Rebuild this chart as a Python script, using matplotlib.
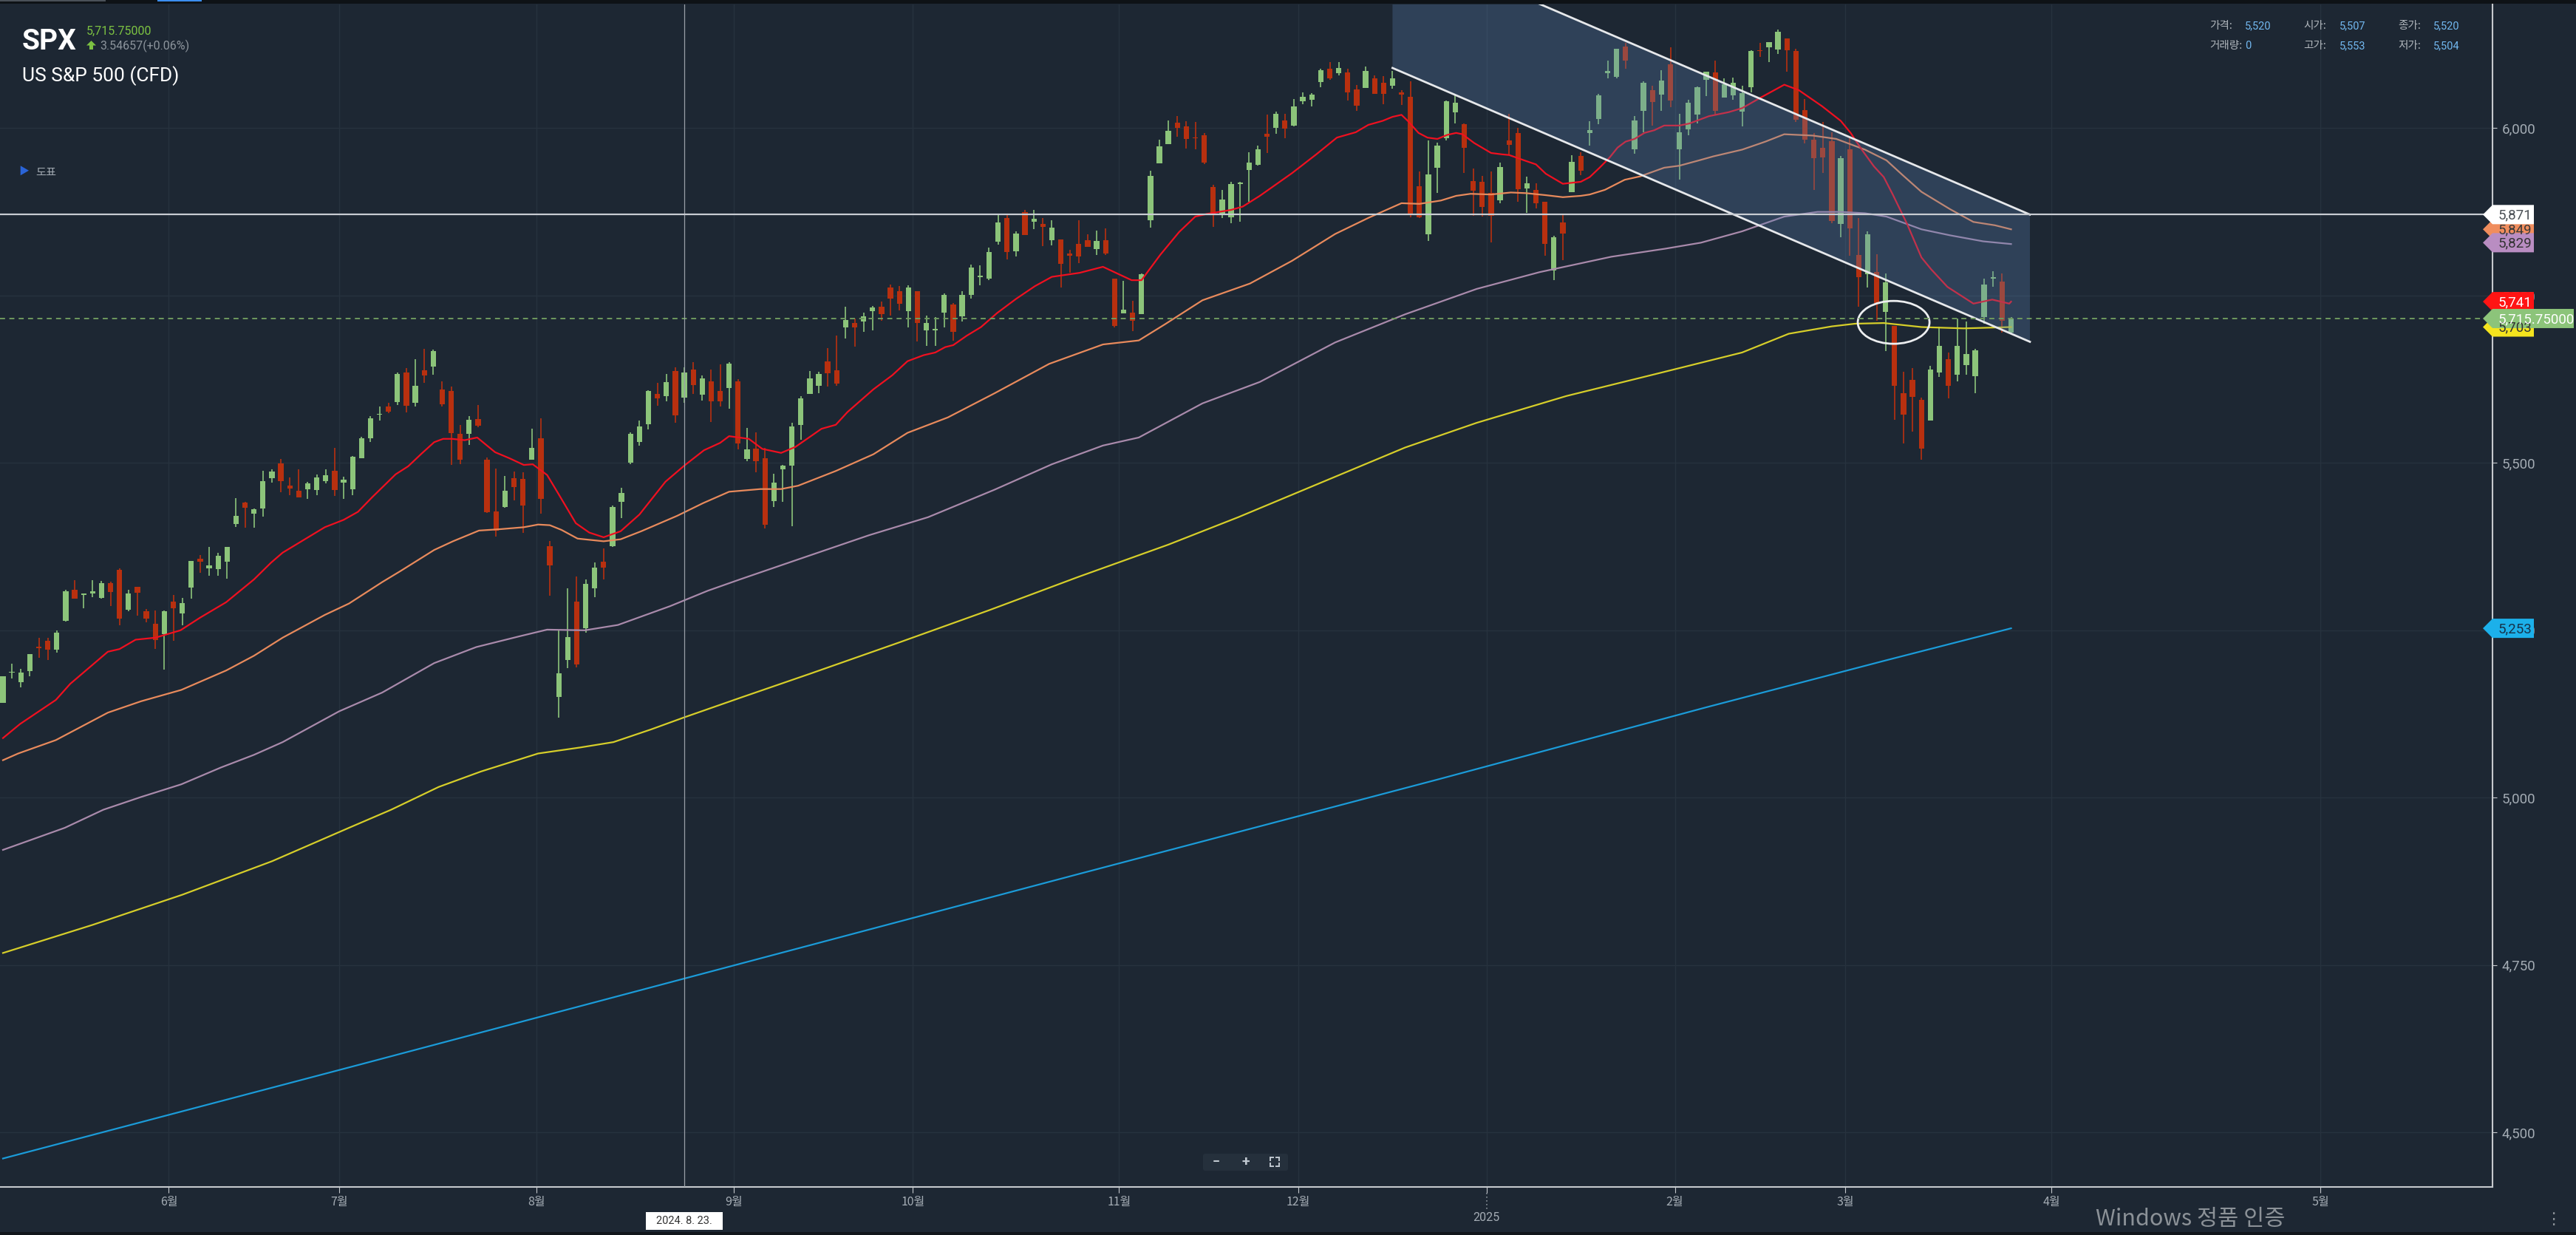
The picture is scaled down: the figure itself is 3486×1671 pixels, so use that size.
#!/usr/bin/env python3
"""SPX (US S&P 500 CFD) daily candles with moving averages, dark trading-app style."""
import matplotlib
matplotlib.use("Agg")
import matplotlib.pyplot as plt
from matplotlib.patches import Polygon, Ellipse, Rectangle, FancyBboxPatch
import numpy as np
import pandas as pd

W, H = 3487, 1671

# trading days on screen (NYSE calendar, the CFD also printed a candle on 2025-01-09)
first_day, last_day = "2024-05-06", "2025-03-27"
holidays = ["2024-05-27", "2024-06-19", "2024-07-04", "2024-09-02", "2024-11-28",
            "2024-12-25", "2025-01-01", "2025-01-20", "2025-02-17"]
future_months = ["2025-04-01", "2025-05-01"]

# daily OHLC, one value per trading day (May .. Mar)
opens = [
    5142, 5187, 5173, 5189, 5225, 5234, 5221, 5264, 5310, 5303, 5305, 5298, 5320, 5340, 5281, 5315, 5278, 5260, 5244,
    5293, 5275, 5314, 5357, 5343, 5341, 5353, 5409, 5441, 5424, 5432, 5477, 5499, 5466, 5459, 5461, 5460, 5473, 5488,
    5471, 5461, 5507, 5537, 5572, 5584, 5591, 5635, 5590, 5638, 5644, 5610, 5608, 5544, 5544, 5566, 5505, 5428, 5434, 5477, 5476, 5505,
    5537, 5376, 5151, 5206, 5293, 5253, 5313, 5352, 5376, 5442, 5500, 5531, 5558, 5603, 5600, 5637, 5598, 5640, 5602, 5622, 5607, 5612,
    5622, 5506, 5521, 5507, 5443, 5490, 5496, 5557, 5603, 5615, 5652, 5638, 5702, 5709, 5711, 5727, 5733, 5762, 5756, 5727,
    5757, 5698, 5698, 5725, 5737, 5719, 5751, 5778, 5775, 5830, 5866, 5816, 5875, 5860, 5857, 5833, 5834, 5813, 5827, 5833, 5819, 5833, 5775,
    5723, 5725, 5722, 5863, 5947, 5976, 6008, 6003, 5986, 5990, 5912, 5870, 5867, 5917, 5938, 5945, 5992, 6001, 6012, 6004,
    6040, 6042, 6069, 6089, 6082, 6083, 6058, 6060, 6074, 6068, 6063, 6053, 6047, 5913, 5842, 5941, 5985, 6024, 6006, 5921, 5920,
    5903, 5892, 5982, 5993, 5910, 5908, 5890, 5788, 5859, 5905, 5959, 5993, 6014, 6082, 6077, 6122, 5969, 6026, 6057, 6050, 6096,
    5969, 5998, 6020, 6072, 6083, 6046, 6049, 6025, 6061, 6116, 6121, 6118, 6134, 6115, 6027, 5983, 5971, 5981, 5857,
    5969, 5811, 5782, 5785, 5726, 5705, 5604, 5624, 5594, 5563, 5635, 5655, 5632, 5646, 5630, 5718, 5775, 5771, 5695,
]
highs = [
    5181, 5200, 5192, 5215, 5239, 5239, 5250, 5311, 5325, 5305, 5325, 5324, 5323, 5342, 5311, 5315, 5282, 5280, 5280,
    5303, 5298, 5354, 5362, 5375, 5366, 5375, 5447, 5442, 5432, 5488, 5490, 5506, 5478, 5490, 5472, 5483, 5490, 5523,
    5479, 5510, 5539, 5570, 5584, 5590, 5635, 5642, 5655, 5670, 5669, 5622, 5614, 5557, 5570, 5586, 5508, 5492, 5480, 5487, 5486, 5551,
    5567, 5383, 5250, 5313, 5330, 5326, 5351, 5372, 5436, 5463, 5546, 5563, 5609, 5620, 5633, 5643, 5643, 5651, 5631, 5640, 5647, 5651,
    5625, 5552, 5546, 5522, 5484, 5497, 5560, 5600, 5637, 5636, 5671, 5690, 5733, 5716, 5725, 5735, 5741, 5767, 5764, 5765,
    5757, 5720, 5718, 5753, 5739, 5757, 5796, 5795, 5822, 5871, 5870, 5846, 5878, 5878, 5866, 5863, 5834, 5818, 5863, 5842, 5847, 5850, 5775,
    5772, 5742, 5783, 5936, 5983, 6012, 6018, 6010, 6009, 5993, 5915, 5908, 5920, 5920, 5964, 5974, 6020, 6025, 6021, 6044,
    6053, 6052, 6089, 6099, 6099, 6089, 6065, 6092, 6079, 6078, 6085, 6057, 6070, 5935, 5982, 5978, 6041, 6049, 6007, 5940, 5929,
    5935, 5949, 6021, 6000, 5928, 5918, 5890, 5839, 5871, 5960, 5964, 6011, 6051, 6101, 6119, 6128, 6018, 6070, 6063, 6087, 6121,
    6022, 6042, 6062, 6084, 6101, 6074, 6076, 6063, 6116, 6127, 6129, 6147, 6134, 6119, 6044, 5993, 6009, 5994, 5959,
    5986, 5866, 5846, 5812, 5783, 5705, 5636, 5642, 5598, 5645, 5704, 5665, 5716, 5711, 5670, 5775, 5786, 5783, 5718,
]
lows = [
    5142, 5178, 5165, 5181, 5209, 5206, 5217, 5263, 5297, 5283, 5299, 5297, 5286, 5257, 5278, 5272, 5262, 5222, 5191,
    5234, 5257, 5297, 5336, 5331, 5331, 5327, 5404, 5403, 5403, 5420, 5471, 5456, 5452, 5448, 5446, 5452, 5470, 5451,
    5446, 5452, 5507, 5531, 5563, 5574, 5587, 5576, 5584, 5620, 5632, 5584, 5497, 5498, 5527, 5553, 5425, 5390, 5433, 5444, 5396, 5505,
    5424, 5302, 5120, 5193, 5195, 5247, 5300, 5326, 5375, 5418, 5498, 5526, 5550, 5585, 5592, 5560, 5590, 5603, 5593, 5561, 5584, 5581,
    5520, 5503, 5486, 5402, 5434, 5442, 5406, 5535, 5603, 5604, 5614, 5615, 5686, 5674, 5696, 5698, 5712, 5720, 5728, 5703,
    5681, 5675, 5675, 5703, 5683, 5711, 5745, 5765, 5773, 5826, 5804, 5808, 5840, 5849, 5824, 5825, 5762, 5784, 5799, 5823, 5811, 5811, 5703,
    5723, 5697, 5722, 5851, 5947, 5976, 5987, 5970, 5969, 5946, 5853, 5866, 5858, 5860, 5890, 5944, 5963, 5992, 5985, 6003,
    6036, 6033, 6061, 6072, 6079, 6041, 6026, 6060, 6051, 6036, 6059, 6035, 5867, 5866, 5832, 5903, 5982, 6007, 5933, 5869, 5868,
    5829, 5888, 5961, 5890, 5874, 5880, 5809, 5773, 5803, 5905, 5930, 5974, 6006, 6075, 6074, 6089, 5962, 5994, 6004, 6026, 6031,
    5923, 5990, 6007, 6048, 6020, 6046, 6042, 6003, 6053, 6107, 6099, 6111, 6084, 6009, 5977, 5908, 5933, 5858, 5837,
    5810, 5733, 5762, 5712, 5667, 5565, 5529, 5547, 5505, 5563, 5628, 5597, 5622, 5632, 5604, 5708, 5763, 5695, 5694,
]
closes = [
    5181, 5187, 5187, 5214, 5223, 5221, 5247, 5308, 5297, 5303, 5308, 5321, 5307, 5268, 5305, 5306, 5267, 5235, 5278,
    5283, 5291, 5354, 5352, 5347, 5361, 5375, 5421, 5433, 5431, 5473, 5487, 5473, 5462, 5448, 5469, 5478, 5482, 5460,
    5475, 5509, 5537, 5567, 5572, 5577, 5633, 5585, 5615, 5631, 5667, 5588, 5545, 5505, 5564, 5556, 5427, 5399, 5459, 5464, 5436, 5522,
    5446, 5347, 5186, 5240, 5199, 5319, 5344, 5344, 5434, 5455, 5543, 5554, 5608, 5597, 5621, 5571, 5635, 5616, 5626, 5592, 5592, 5648,
    5529, 5520, 5503, 5408, 5471, 5496, 5554, 5596, 5626, 5633, 5634, 5618, 5714, 5703, 5719, 5732, 5722, 5745, 5738, 5762,
    5709, 5709, 5700, 5751, 5696, 5751, 5792, 5780, 5815, 5859, 5815, 5843, 5841, 5865, 5853, 5851, 5797, 5809, 5808, 5823, 5832, 5813, 5705,
    5729, 5712, 5782, 5929, 5973, 5996, 6001, 5984, 5985, 5949, 5871, 5893, 5917, 5917, 5949, 5969, 5987, 6021, 5999, 6032,
    6047, 6050, 6087, 6075, 6090, 6053, 6034, 6085, 6051, 6051, 6074, 6050, 5872, 5867, 5931, 5974, 6040, 6038, 5971, 5907, 5882,
    5869, 5942, 5975, 5909, 5918, 5888, 5827, 5837, 5843, 5950, 5937, 5997, 6049, 6086, 6119, 6101, 6012, 6068, 6039, 6071, 6041,
    5994, 6038, 6061, 6084, 6026, 6066, 6068, 6052, 6115, 6115, 6129, 6144, 6117, 6013, 5983, 5955, 5956, 5861, 5955,
    5850, 5778, 5842, 5739, 5770, 5615, 5572, 5599, 5521, 5639, 5675, 5615, 5675, 5663, 5668, 5767, 5777, 5712, 5716,
]

# moving averages: (candle index, price)
ma_red = [(0, 5089), (1.9, 5110), (5.9, 5146), (7.5, 5170), (11.7, 5218), (13.0, 5222), (14.8, 5236), (17.0, 5239),
          (19.8, 5250), (22.0, 5269), (24.9, 5292), (28.0, 5326), (29.9, 5351), (31.2, 5366), (33.3, 5383),
          (35.9, 5404), (38.0, 5415), (39.6, 5427), (41.2, 5449), (43.8, 5483), (45.2, 5495), (46.7, 5514),
          (48.1, 5531), (49.1, 5536), (50.1, 5536), (51.5, 5534), (52.9, 5538), (54.9, 5516), (56.5, 5507),
          (58.1, 5497), (59.1, 5498), (60.7, 5482), (62.0, 5453), (63.9, 5410), (65.4, 5396), (67.0, 5389),
          (68.9, 5398), (71.0, 5423), (73.9, 5472), (76.0, 5496), (78.2, 5519), (80.0, 5530), (81.0, 5540),
          (83.2, 5536), (84.7, 5521), (86.8, 5515), (88.4, 5524), (91.3, 5551), (92.9, 5557), (94.2, 5576),
          (97.1, 5610), (99.2, 5631), (100.9, 5652), (102.7, 5661), (104.0, 5665), (105.1, 5673), (106.0, 5676),
          (107.5, 5690), (109.1, 5703), (110.9, 5724), (113.0, 5745), (115.1, 5764), (117.0, 5778), (120.1, 5784),
          (122.7, 5793), (124.3, 5783), (125.9, 5773), (127.0, 5773), (129.1, 5811), (131.2, 5845), (133.0, 5868),
          (134.3, 5872), (137.0, 5878), (138.3, 5883), (140.2, 5899), (142.0, 5916), (143.8, 5933), (146.5, 5961),
          (148.8, 5986), (150.9, 5994), (152.3, 6005), (153.9, 6011), (155.0, 6017), (156.0, 6020), (156.7, 6011),
          (157.9, 5993), (158.9, 5986), (160.0, 5984), (161.1, 5990), (162.1, 5993), (162.8, 5991), (164.1, 5978),
          (166.0, 5963), (167.2, 5961), (168.0, 5960), (169.9, 5951), (171.0, 5946), (172.1, 5932), (174.0, 5917),
          (176.0, 5920), (177.0, 5927), (178.1, 5941), (179.2, 5956), (180.1, 5971), (181.0, 5980), (182.0, 5984),
          (183.1, 5993), (184.2, 5997), (185.3, 6004), (187.0, 6004), (188.1, 6007), (190.3, 6018), (192.5, 6024),
          (194.0, 6030), (196.1, 6046), (198.7, 6065), (200.3, 6057), (202.9, 6033), (205.0, 6011), (206.1, 5993),
          (207.4, 5967), (208.7, 5943), (209.8, 5927), (210.8, 5901), (212.4, 5857), (214.0, 5807), (215.1, 5789),
          (216.9, 5763), (219.8, 5738), (221.9, 5744), (223.8, 5738), (224, 5741)]
ma_orange = [(0, 5056), (1.7, 5066), (5.9, 5086), (11.7, 5127), (15.4, 5144), (19.9, 5161), (24.9, 5190),
             (28.0, 5212), (31.2, 5239), (35.9, 5273), (38.6, 5290), (42.3, 5322), (44.4, 5339), (48.1, 5370),
             (50.2, 5383), (53.1, 5399), (55.4, 5401), (58.1, 5404), (59.7, 5408), (61.0, 5407), (62.3, 5400),
             (64.1, 5387), (67.0, 5383), (68.9, 5386), (71.2, 5398), (75.2, 5421), (78.1, 5440), (81.0, 5457),
             (84.5, 5461), (86.8, 5461), (88.7, 5466), (92.9, 5488), (97.1, 5513), (100.9, 5545), (105.4, 5568),
             (110.6, 5604), (116.7, 5648), (122.7, 5677), (126.7, 5683), (129.6, 5707), (133.8, 5743), (139.1, 5768),
             (143.8, 5802), (148.6, 5842), (152.3, 5866), (156.0, 5888), (158.0, 5887), (160.4, 5892), (162.1, 5899),
             (163.7, 5902), (166.0, 5901), (168.2, 5904), (169.9, 5903), (172.1, 5900), (174.0, 5897), (176.0, 5899),
             (177.0, 5901), (178.7, 5908), (180.9, 5923), (182.6, 5928), (185.3, 5941), (187.0, 5944), (189.2, 5952),
             (190.8, 5958), (194.0, 5968), (196.6, 5980), (198.7, 5991), (201.9, 5989), (204.5, 5984), (207.7, 5968),
             (210.1, 5952), (211.9, 5930), (214.0, 5905), (217.2, 5879), (219.8, 5860), (222.2, 5855), (224, 5849)]
ma_purple = [(0, 4922), (6.9, 4955), (11.2, 4982), (15.4, 5001), (19.9, 5020), (24.3, 5045), (28.0, 5064),
             (31.2, 5083), (37.5, 5129), (42.3, 5157), (48.1, 5201), (52.8, 5225), (57.6, 5241), (60.7, 5251),
             (64.9, 5250), (68.6, 5258), (74.4, 5286), (78.6, 5309), (82.2, 5326), (89.6, 5360), (96.6, 5392),
             (103.2, 5419), (110.6, 5460), (117.0, 5498), (122.7, 5526), (126.7, 5538), (133.8, 5589), (140.2, 5621),
             (148.6, 5680), (156.4, 5722), (164.4, 5760), (171.4, 5785), (179.4, 5808), (185.4, 5820), (189.4, 5829),
             (194.0, 5846), (198.7, 5868), (202.4, 5875), (205.0, 5875), (207.7, 5873), (210.1, 5868), (214.0, 5849),
             (217.2, 5840), (220.9, 5831), (224, 5827)]
ma_yellow = [(0, 4768), (10, 4810), (20, 4855), (30, 4905), (38.6, 4955), (43.3, 4982), (48.6, 5016), (53.3, 5039),
             (59.7, 5066), (64.4, 5075), (68.1, 5083), (72.3, 5102), (76.0, 5120), (82.2, 5149), (90, 5185),
             (100, 5232), (110, 5280), (120, 5330), (130, 5378), (137.8, 5419), (156.4, 5523), (164.4, 5560),
             (174.4, 5600), (184.4, 5633), (189.2, 5649), (194.0, 5665), (199.2, 5693), (204.0, 5704), (206.6, 5708),
             (209.8, 5709), (214.0, 5703), (218.7, 5701), (224, 5703)]
ma_cyan = [(0, 4461), (40, 4602), (80, 4744), (120, 4886), (160, 5027), (190, 5135), (210, 5205), (224, 5253)]

last_price = 5715.75
crosshair_day = "2024-08-23"
crosshair_price = 5871

# user drawn parallel channel and circle (candle index, price)
channel_x = [155.0, 226.1]
channel_lower = [6090, 5681]
channel_upper = [6280, 5871]
circle_center = (210.9, 5710)
circle_size = (8.0, 64)

price_ticks = [4500, 4750, 5000, 5250, 5500, 5750, 6000]

# right axis flags: value, text, background, text colour (drawn in this order)
flags = [
    (5703, "5,703", "#f4e41e", "#333333"),
    (5849, "5,849", "#f08d5d", "#3a3a3a"),
    (5253, "5,253", "#1cb0ea", "#16324a"),
    (5829, "5,829", "#b98dc2", "#333333"),
    (5741, "5,741", "#ff1414", "#ffffff"),
    (5715.75, "5,715.75000", "#8cc47a", "#ffffff"),
    (5871, "5,871", "#ffffff", "#4a4f55"),
]

info_rows = [[("가격:", "5,520"), ("시가:", "5,507"), ("종가:", "5,520")],
             [("거래량:", "0"), ("고가:", "5,553"), ("저가:", "5,504")]]

BG = "#1d2733"
GRID = "#27323e"
AXIS = "#c5c9cd"
TXT = "#a4acb4"
UP, DOWN = "#8cc47a", "#b8300f"

plt.rcParams["font.family"] = ["Roboto", "Noto Sans CJK KR", "DejaVu Sans"]

dates = pd.bdate_range(first_day, last_day).drop(pd.to_datetime(holidays))
o, h, l, c = (np.array(v, dtype=float) for v in (opens, highs, lows, closes))
assert len(dates) == len(c)
x = np.arange(len(dates))

# month ticks sit on the boundary before the first candle of each month
starts = [i for i in range(1, len(dates)) if dates[i].month != dates[i - 1].month]
tick_pos = [i - 0.5 for i in starts]
tick_lab = [f"{dates[i].month}월" for i in starts]
for d in future_months:
    d = pd.Timestamp(d)
    tick_pos.append(x[-1] + (d - dates[-1]).days - 0.5)
    tick_lab.append(f"{d.month}월")
jan_pos = tick_pos[tick_lab.index("1월")]
tick_lab = ["" if t == "1월" else t for t in tick_lab]

fig = plt.figure(figsize=(W / 100, H / 100), dpi=100, facecolor=BG)
ax = fig.add_axes([0, 65 / H, 3373 / W, 1600 / H], facecolor=BG)
ax.set_xlim(-0.33, 277.7)
ax.set_ylim(4418.5, 6184.9)

ax.set_yticks(price_ticks, [f"{v:,}" for v in price_ticks])
ax.set_xticks(tick_pos, tick_lab)
ax.yaxis.tick_right()
ax.grid(True, color=GRID, lw=1.0, zorder=0)
ax.set_axisbelow(True)
for s in ("top", "left"):
    ax.spines[s].set_visible(False)
for s in ("right", "bottom"):
    ax.spines[s].set_color(AXIS)
    ax.spines[s].set_linewidth(1.5)
ax.tick_params(axis="y", colors=AXIS, labelcolor=TXT, labelsize=13.5, length=4, pad=5)
ax.tick_params(axis="x", colors=AXIS, labelcolor=TXT, labelsize=11.5, length=6, pad=3)
for lbl in ax.get_xticklabels():
    lbl.set_fontfamily(["Noto Sans CJK KR", "DejaVu Sans"])

# candles
cols = np.where(c >= o, UP, DOWN)
ax.vlines(x, l, h, colors=cols, lw=1.2, zorder=3)
body = np.maximum(np.abs(c - o), 1.5)
ax.bar(x, body, bottom=np.minimum(o, c), width=0.6, color=cols, linewidth=0, zorder=4)

# moving averages
for pts, col in ((ma_cyan, "#1b9bd8"), (ma_yellow, "#d6ce2a"), (ma_purple, "#a98aab"),
                 (ma_orange, "#e88a5c"), (ma_red, "#f01020")):
    px, py = zip(*pts)
    ax.plot(px, py, color=col, lw=1.6, zorder=5, solid_joinstyle="round")

# channel
ax.add_patch(Polygon([(channel_x[0], channel_lower[0]), (channel_x[1], channel_lower[1]),
                      (channel_x[1], channel_upper[1]), (channel_x[0], channel_upper[0])],
                     closed=True, fc="#5a80b0", alpha=0.3, ec="none", zorder=6))
ax.plot(channel_x, channel_lower, color="#e6e8eb", lw=2.0, zorder=7)
ax.plot(channel_x, channel_upper, color="#e6e8eb", lw=2.0, zorder=7)
ax.add_patch(Ellipse(circle_center, circle_size[0], circle_size[1], fill=False,
                     ec="#eceef0", lw=2.0, zorder=8))

# price line and crosshair
cross_i = dates.get_loc(pd.Timestamp(crosshair_day))
ax.axhline(last_price, color="#6f9a5f", lw=1.4, ls=(0, (3.5, 3)), zorder=9)
ax.axvline(cross_i, color="#9aa0a8", lw=0.9, zorder=9)
ax.axhline(crosshair_price, color="#c8ccd2", lw=1.6, zorder=9)

# overlay in pixel coordinates for the app chrome
ov = fig.add_axes([0, 0, 1, 1], zorder=20)
ov.set_xlim(0, W)
ov.set_ylim(H, 0)
ov.axis("off")
ov.patch.set_visible(False)


def ypx(p):
    return H - ax.transData.transform((0, p))[1]


def xpx(i):
    return ax.transData.transform((i, 0))[0]


for val, txt, bg, fg in flags:
    yc = ypx(val)
    right = 3483 if len(txt) > 6 else 3429
    ov.add_patch(Polygon([(3360, yc), (3373, yc - 13), (right, yc - 13), (right, yc + 13), (3373, yc + 13)],
                         closed=True, fc=bg, ec="none", zorder=21))
    ov.text(3381, yc + 1, txt, color=fg, fontsize=13.5, va="center", ha="left", zorder=22)

# header
ov.text(30, 67, "SPX", color="white", fontsize=28, fontweight="bold", va="baseline")
ov.text(117, 47, "5,715.75000", color="#7cc242", fontsize=11.5, va="baseline")
ov.add_patch(Polygon([(123.5, 55), (130, 61.5), (126, 61.5), (126, 67), (121, 67), (121, 61.5), (117, 61.5)],
                     closed=True, fc="#7cc242", ec="none"))
ov.text(135, 67, "3.54657(+0.06%)", color="#8c949c", fontsize=11.5, va="baseline")
ov.text(30, 110, "US S&P 500 (CFD)", color="white", fontsize=19, va="baseline")
ov.text(25, 233, "▶", color="#2a64d8", fontsize=10, va="center")
ov.text(48, 233, "도표", color="#a0a8b0", fontsize=11, va="center",
        family=["Noto Sans CJK KR", "DejaVu Sans"])

for r, row in enumerate(info_rows):
    y = 35 + r * 27
    for k, (lab, val) in enumerate(row):
        x0 = 2990 + k * 127.5
        ov.text(x0, y, lab, color="#b0b6bc", fontsize=10.5, va="center",
                family=["Noto Sans CJK KR", "DejaVu Sans"])
        ov.text(x0 + 48, y, val, color="#72b8f0", fontsize=10.5, va="center")

# top strip
ov.add_patch(Rectangle((0, 0), W, 5, fc="#0e1216", ec="none"))
ov.add_patch(Rectangle((0, 0), 143, 2, fc="#4a5058", ec="none"))
ov.add_patch(Rectangle((213, 0), 60, 2, fc="#3b8ef0", ec="none"))
ov.add_patch(Rectangle((0, 1667), W, 4, fc="#11161b", ec="none"))

# 2025 under the January tick
jx = xpx(jan_pos)
ov.plot([jx, jx], [1614, 1636], color="#8a929a", lw=1.2, ls=(0, (1, 2)))
ov.text(jx, 1648, "2025", color=TXT, fontsize=11.5, ha="center", va="center")

# crosshair date box
cx = xpx(cross_i)
ov.add_patch(Rectangle((cx - 52, 1640), 104, 24, fc="white", ec="none"))
ov.text(cx, 1652, "2024. 8. 23.", color="#333333", fontsize=10.5, ha="center", va="center")

# zoom controls
ov.add_patch(FancyBboxPatch((1628, 1561), 115, 23, boxstyle="round,pad=0,rounding_size=3",
                            fc="#25303c", ec="none"))
ov.text(1646, 1572, "−", color="#c0c8d0", fontsize=13, ha="center", va="center", fontweight="bold")
ov.text(1686, 1572, "+", color="#c0c8d0", fontsize=14, ha="center", va="center", fontweight="bold")
for sx, sy in ((-1, -1), (1, -1), (-1, 1), (1, 1)):
    cx0, cy0 = 1725 + sx * 6, 1572 + sy * 6
    ov.plot([cx0, cx0 - sx * 4], [cy0, cy0], color="#c0c8d0", lw=1.4)
    ov.plot([cx0, cx0], [cy0, cy0 - sy * 4], color="#c0c8d0", lw=1.4)

ov.text(2836, 1650, "Windows 정품 인증", color="#8b9197", fontsize=22, va="center",
        family=["Noto Sans CJK KR", "DejaVu Sans"])
ov.text(3455, 1650, "⋮", color="#8b9197", fontsize=16, ha="center", va="center",
        family=["DejaVu Sans"])

fig.savefig("out.png", dpi=100, facecolor=BG)
